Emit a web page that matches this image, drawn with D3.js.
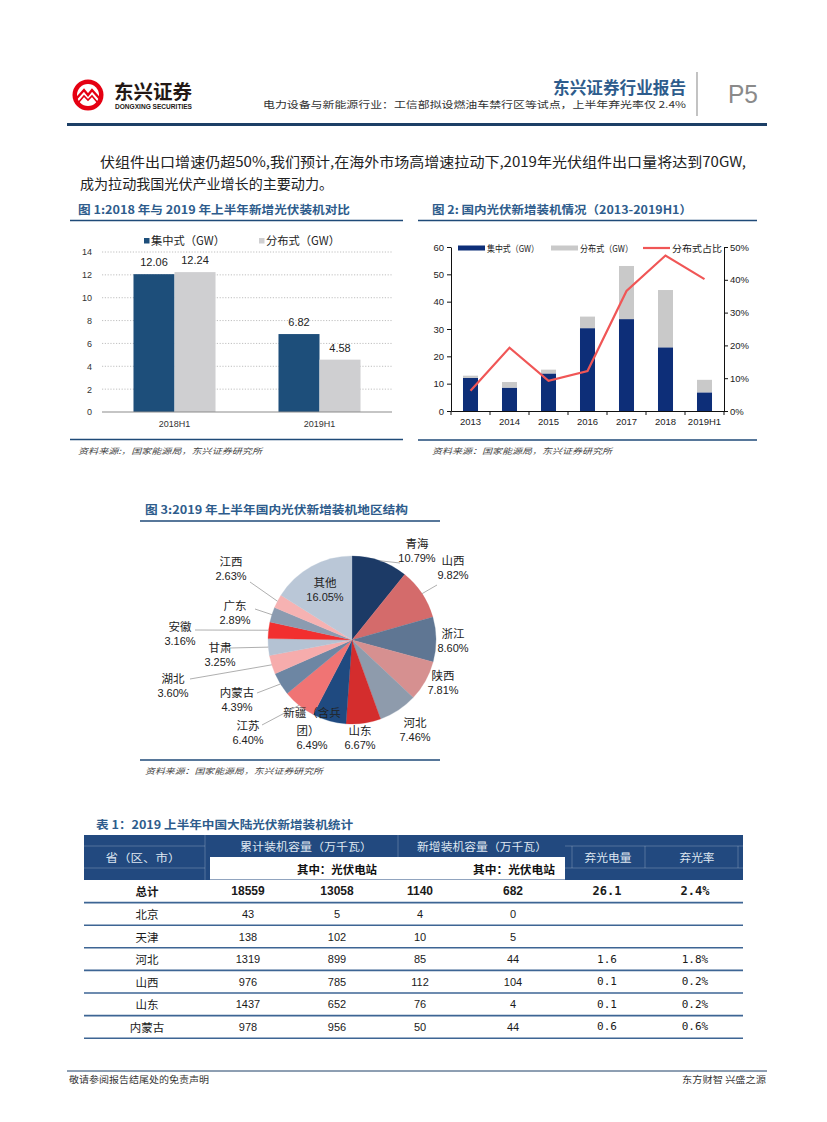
<!DOCTYPE html>
<html><head><meta charset="utf-8">
<script src="https://cdn.jsdelivr.net/npm/d3@7"></script>
<style>body{margin:0;background:#fff}svg{display:block}</style>
</head><body>
<svg id="page" width="827" height="1122"></svg>
<script>
// ---------------- DATA ----------------
const fig1Categories = ["2018H1", "2019H1"];
const fig1Series = ["集中式（GW）", "分布式（GW）"];
const fig1Central = [12.06, 6.82];
const fig1Distributed = [12.24, 4.58];
const fig1Ticks = [0, 2, 4, 6, 8, 10, 12, 14];

const fig2Years = ["2013", "2014", "2015", "2016", "2017", "2018", "2019H1"];
const fig2Series = ["集中式（GW）", "分布式（GW）", "分布式占比"];
const fig2Central = [12.12, 8.55, 13.74, 30.31, 33.62, 23.30, 6.82];
const fig2Distributed = [0.80, 2.05, 1.39, 4.23, 19.44, 20.96, 4.58];
const fig2Share = [0.062, 0.193, 0.092, 0.122, 0.366, 0.474, 0.402];
const fig2LeftTicks = [0, 10, 20, 30, 40, 50, 60];
const fig2RightTicks = [0, 0.1, 0.2, 0.3, 0.4, 0.5];

const fig3Regions = ["青海", "山西", "浙江", "陕西", "河北", "山东", "新疆（含兵团）", "江苏", "内蒙古", "湖北", "甘肃", "安徽", "广东", "江西", "其他"];
const fig3Shares = [10.79, 9.82, 8.60, 7.81, 7.46, 6.67, 6.49, 6.40, 4.39, 3.60, 3.25, 3.16, 2.89, 2.63, 16.05];
const fig3Colors = ["#1c3a66", "#d46b6b", "#5f7693", "#d69090", "#8e9bac", "#d42d2d", "#1f4a80", "#f07474", "#6d86a3", "#f6acac", "#b4c2d3", "#f22f2f", "#8b9bb0", "#f6b2b2", "#bac7d7"];

const tableProvinces = ["总计", "北京", "天津", "河北", "山西", "山东", "内蒙古"];
const tableCumTotal = [18559, 43, 138, 1319, 976, 1437, 978];
const tableCumStation = [13058, 5, 102, 899, 785, 652, 956];
const tableNewTotal = [1140, 4, 10, 85, 112, 76, 50];
const tableNewStation = [682, 0, 5, 44, 104, 4, 44];
const tableCurtailed = ["26.1", "", "", "1.6", "0.1", "0.1", "0.6"];
const tableCurtailRate = ["2.4%", "", "", "1.8%", "0.2%", "0.2%", "0.6%"];

// ---------------- DRAWING ----------------
const svg = d3.select("#page");
const CJK = "'Noto Sans CJK SC','Noto Sans',sans-serif";
const LAT = "'Liberation Sans',Arial,sans-serif";
const TITLE_BLUE = "#2e5c8c";
const LINE_BLUE = "#1f4a78";

function txt(g, x, y, s, o = {}) {
  const t = g.append("text").attr("x", x).attr("y", y).text(s)
    .attr("font-family", o.ff || CJK).attr("font-size", o.fs || 12)
    .attr("fill", o.fill || "#222").attr("text-anchor", o.anchor || "start")
    .attr("dominant-baseline", o.baseline || "alphabetic");
  if (o.fw) t.attr("font-weight", o.fw);
  if (o.italic) t.attr("font-style", "italic");
  if (o.len) t.attr("textLength", o.len).attr("lengthAdjust", "spacingAndGlyphs");
  return t;
}
function hline(g, x1, x2, y, c, w) {
  g.append("line").attr("x1", x1).attr("x2", x2).attr("y1", y).attr("y2", y).attr("stroke", c).attr("stroke-width", w);
}

// ----- Header -----
const hdr = svg.append("g");
hdr.append("circle").attr("cx", 88).attr("cy", 95).attr("r", 15.5).attr("fill", "#e50012");
hdr.append("circle").attr("cx", 88).attr("cy", 95).attr("r", 11).attr("fill", "#fff");
hdr.append("path").attr("d", "M76,99 L84,90 L88,95 L92,90 L100,99").attr("fill", "none").attr("stroke", "#e50012").attr("stroke-width", 2.4);
hdr.append("path").attr("d", "M78,103 L84,96 L88,100 L92,96 L98,103").attr("fill", "none").attr("stroke", "#e50012").attr("stroke-width", 1.6);
txt(hdr, 114, 99, "东兴证券", { fs: 19, fw: 700, fill: "#231815", len: 78 });
txt(hdr, 115, 109, "DONGXING SECURITIES", { ff: LAT, fs: 6.5, fw: 700, fill: "#231815", len: 77 });
txt(hdr, 686, 94, "东兴证券行业报告", { fs: 16.5, fw: 700, fill: TITLE_BLUE, anchor: "end", len: 133 });
txt(hdr, 686, 108, "电力设备与新能源行业：工信部拟设燃油车禁行区等试点，上半年弃光率仅 2.4%", { fs: 9.5, fill: "#333", anchor: "end", len: 423 });
hdr.append("line").attr("x1", 697).attr("x2", 697).attr("y1", 72).attr("y2", 116).attr("stroke", "#9a9a9a").attr("stroke-width", 1.2);
txt(hdr, 728, 103, "P5", { ff: LAT, fs: 25, fill: "#8a8a8a", len: 30 });
hline(hdr, 67, 767, 124.5, "#1c3f66", 3);

// ----- Body text -----
txt(svg, 100, 167, "伏组件出口增速仍超50%,我们预计,在海外市场高增速拉动下,2019年光伏组件出口量将达到70GW,", { fs: 14, fill: "#222", len: 646 });
txt(svg, 80, 189, "成为拉动我国光伏产业增长的主要动力。", { fs: 14, fill: "#222", len: 253 });

// ----- Figure 1 -----
(function () {
  const g = svg.append("g");
  txt(g, 78, 214, "图 1:2018 年与 2019 年上半年新增光伏装机对比", { fs: 11.5, fw: 700, fill: TITLE_BLUE, len: 272 });
  hline(g, 70, 403, 220.5, LINE_BLUE, 1.5);
  hline(g, 70, 403, 439.5, LINE_BLUE, 1.5);
  txt(g, 78, 454, "资料来源:，国家能源局，东兴证券研究所", { fs: 8, fill: "#444", italic: true, len: 184 });

  const x0 = 102, x1 = 392, yB = 412, yT = 252;
  const y = d3.scaleLinear().domain([0, 14]).range([yB, yT]);
  const xb = d3.scaleBand().domain(fig1Categories).range([x0, x1]);
  const xs = d3.scaleBand().domain([0, 1]).range([0, xb.bandwidth()]).paddingOuter(0.768);
  const cols = ["#1d4e7a", "#cfcfd1"];

  g.selectAll(".grid").data(fig1Ticks.filter(d => d > 0)).join("line")
    .attr("x1", x0).attr("x2", x1).attr("y1", d => y(d)).attr("y2", d => y(d))
    .attr("stroke", "#b0b0b0").attr("stroke-width", 0.8).attr("stroke-dasharray", "1.2,1.6");

  const yAx = g.append("g").attr("transform", `translate(${x0 - 6},0)`)
    .call(d3.axisLeft(y).tickValues(fig1Ticks).tickSize(0).tickPadding(4));
  yAx.select(".domain").remove();
  yAx.selectAll("text").attr("font-family", LAT).attr("font-size", 9).attr("fill", "#333");

  const series = [fig1Central, fig1Distributed];
  series.forEach((vals, si) => {
    g.selectAll(".b" + si).data(vals).join("rect")
      .attr("x", (d, i) => xb(fig1Categories[i]) + xs(si)).attr("width", xs.bandwidth())
      .attr("y", d => y(d)).attr("height", d => yB - y(d)).attr("fill", cols[si]);
    g.selectAll(".l" + si).data(vals).join("text")
      .attr("x", (d, i) => xb(fig1Categories[i]) + xs(si) + xs.bandwidth() / 2)
      .attr("y", d => y(d) - 8).attr("text-anchor", "middle")
      .attr("font-family", LAT).attr("font-size", 11).attr("fill", "#222")
      .text(d => d.toFixed(2));
  });
  hline(g, x0, x1, yB, "#8c8c8c", 1.2);
  const xAx = g.append("g").attr("transform", `translate(0,${yB})`)
    .call(d3.axisBottom(xb).tickSize(0).tickPadding(9));
  xAx.select(".domain").remove();
  xAx.selectAll("text").attr("font-family", LAT).attr("font-size", 9).attr("fill", "#333");

  // legend
  const lx = [144, 259];
  fig1Series.forEach((s, i) => {
    g.append("rect").attr("x", lx[i]).attr("y", 238).attr("width", 5.5).attr("height", 5.5).attr("fill", cols[i]);
    txt(g, lx[i] + 7, 245, s, { fs: 11.5, fill: "#222", len: 74 });
  });
})();

// ----- Figure 2 -----
(function () {
  const g = svg.append("g");
  txt(g, 432, 214, "图 2: 国内光伏新增装机情况（2013-2019H1）", { fs: 11.5, fw: 700, fill: TITLE_BLUE, len: 260 });
  hline(g, 418, 757, 220.5, LINE_BLUE, 1.5);
  hline(g, 418, 757, 440, LINE_BLUE, 1.5);
  txt(g, 432, 454, "资料来源：国家能源局，东兴证券研究所", { fs: 8, fill: "#444", italic: true, len: 180 });

  const x0 = 451, x1 = 724, yB = 411, yT = 247;
  const y = d3.scaleLinear().domain([0, 60]).range([yB, yT]);
  const y2 = d3.scaleLinear().domain([0, 0.5]).range([yB, yT]);
  const xb = d3.scaleBand().domain(fig2Years).range([x0, x1]).paddingInner(0.615).paddingOuter(0.3075);
  const cols = ["#0d2e78", "#c9c9c9", "#f05656"];

  g.selectAll(".c").data(fig2Central).join("rect")
    .attr("x", (d, i) => xb(fig2Years[i])).attr("width", xb.bandwidth())
    .attr("y", d => y(d)).attr("height", d => yB - y(d)).attr("fill", cols[0]);
  g.selectAll(".d").data(fig2Distributed).join("rect")
    .attr("x", (d, i) => xb(fig2Years[i])).attr("width", xb.bandwidth())
    .attr("y", (d, i) => y(d + fig2Central[i])).attr("height", d => yB - y(d)).attr("fill", cols[1]);

  const line = d3.line().x((d, i) => xb(fig2Years[i]) + xb.bandwidth() / 2).y(d => y2(d));
  g.append("path").datum(fig2Share).attr("d", line).attr("fill", "none")
    .attr("stroke", cols[2]).attr("stroke-width", 2.2).attr("stroke-linejoin", "miter");

  const styleAx = ax => {
    ax.select(".domain").attr("stroke", "#111").attr("stroke-width", 1);
    ax.selectAll(".tick line").attr("stroke", "#111");
    ax.selectAll("text").attr("font-family", LAT).attr("font-size", 9.5).attr("fill", "#222");
  };
  styleAx(g.append("g").attr("transform", `translate(${x0},0)`)
    .call(d3.axisLeft(y).tickValues(fig2LeftTicks).tickSize(4).tickSizeOuter(0).tickPadding(3)));
  styleAx(g.append("g").attr("transform", `translate(${x1},0)`)
    .call(d3.axisRight(y2).tickValues(fig2RightTicks).tickFormat(d3.format(".0%")).tickSize(4).tickSizeOuter(0).tickPadding(2)));
  const bx = g.append("g").attr("transform", `translate(0,${yB})`)
    .call(d3.axisBottom(xb).tickSize(0).tickPadding(7));
  styleAx(bx);
  const step = xb.step();
  g.selectAll(".bt").data(d3.range(fig2Years.length + 1)).join("line")
    .attr("x1", i => x0 + i * step).attr("x2", i => x0 + i * step)
    .attr("y1", yB).attr("y2", yB + 4).attr("stroke", "#111");

  // legend
  const ly = 248;
  g.append("rect").attr("x", 458).attr("y", ly - 2.5).attr("width", 27).attr("height", 5).attr("fill", cols[0]);
  txt(g, 487, ly + 3.5, fig2Series[0], { fs: 9, fill: "#222", len: 52 });
  g.append("rect").attr("x", 551).attr("y", ly - 2.5).attr("width", 27).attr("height", 5).attr("fill", cols[1]);
  txt(g, 580, ly + 3.5, fig2Series[1], { fs: 9, fill: "#222", len: 53 });
  hline(g, 643, 670, ly, cols[2], 2.2);
  txt(g, 672, ly + 3.5, fig2Series[2], { fs: 9, fill: "#222", len: 50 });
})();

// ----- Figure 3 (pie) -----
(function () {
  const g = svg.append("g");
  txt(g, 145, 514, "图 3:2019 年上半年国内光伏新增装机地区结构", { fs: 11.5, fw: 700, fill: TITLE_BLUE, len: 263 });
  hline(g, 140, 440, 521, LINE_BLUE, 1.5);
  hline(g, 140, 440, 760, LINE_BLUE, 1.5);
  txt(g, 145, 774, "资料来源：国家能源局，东兴证券研究所", { fs: 8, fill: "#444", italic: true, len: 178 });

  const cx = 352, cy = 640, R = 84;
  const pie = d3.pie().sort(null).value(d => d)(fig3Shares);
  const arc = d3.arc().innerRadius(0).outerRadius(R);
  const pg = g.append("g").attr("transform", `translate(${cx},${cy})`);
  pg.selectAll("path").data(pie).join("path").attr("d", arc)
    .attr("fill", (d, i) => fig3Colors[i]).attr("stroke", (d, i) => fig3Colors[i]).attr("stroke-width", 0.3);

  // label layout (offsets from pie centre): name-line centre, optional wrap, leader start
  const layout = [
    { p: [65, -97], lead: [48, -77] },
    { p: [101, -80], lead: [85, -55] },
    { p: [101, -7] },
    { p: [91, 35] },
    { p: [63, 82] },
    { p: [8, 90] },
    { p: [-40, 72], wrap: ["新疆（含兵", "团）"] },
    { p: [-104, 85], lead: [-90, 85] },
    { p: [-115, 52], lead: [-95, 53] },
    { p: [-179, 38], lead: [-162, 39] },
    { p: [-132, 7], lead: [-122, 8] },
    { p: [-172, -14], lead: [-157, -10] },
    { p: [-117, -35], lead: [-97, -31] },
    { p: [-121, -79], lead: [-102, -58] },
    { p: [-27, -58] }
  ];
  pie.forEach((s, i) => {
    const L = layout[i];
    if (L.lead) {
      const a = (s.startAngle + s.endAngle) / 2;
      pg.append("line").attr("x1", L.lead[0]).attr("y1", L.lead[1])
        .attr("x2", Math.sin(a) * R).attr("y2", -Math.cos(a) * R)
        .attr("stroke", "#a6a6a6").attr("stroke-width", 0.9);
    }
    const lines = L.wrap || [fig3Regions[i]];
    let yy = L.p[1];
    lines.forEach((ln, k) => {
      txt(pg, L.p[0] + (k > 0 ? -4 : 0), yy, ln, { fs: 11.5, fill: "#222", anchor: "middle", baseline: "central" });
      yy += k === 0 && lines.length > 1 ? 18 : 15;
    });
    txt(pg, L.p[0], yy, s.data.toFixed(2) + "%", { ff: LAT, fs: 11, fill: "#222", anchor: "middle", baseline: "central" });
  });
})();

// ----- Table -----
(function () {
  const g = svg.append("g");
  txt(g, 96, 829, "表 1：2019 上半年中国大陆光伏新增装机统计", { fs: 11.5, fw: 700, fill: TITLE_BLUE, len: 257 });
  const L = 84, Rr = 743, hT = 835, hB = 880;
  const headBlue = "#22497f";
  g.append("rect").attr("x", L).attr("y", hT).attr("width", Rr - L).attr("height", hB - hT).attr("fill", headBlue);
  g.append("rect").attr("x", 210).attr("y", 857).attr("width", 355).attr("height", 22.5).attr("fill", "#fff");
  // faint header cell borders
  const faint = "rgba(255,255,255,0.22)";
  [[205, 835, 205, 880], [398, 835, 398, 857], [84, 846, 205, 846], [84, 868, 205, 868], [565, 846, 743, 846], [565, 868, 743, 868], [572, 846, 572, 868], [645, 846, 645, 868], [738, 846, 738, 868]]
    .forEach(c => g.append("line").attr("x1", c[0]).attr("y1", c[1]).attr("x2", c[2]).attr("y2", c[3]).attr("stroke", faint).attr("stroke-width", 1));
  const hc = "#dfe7f1";
  txt(g, 143, 857, "省（区、市）", { fs: 11, fill: hc, anchor: "middle", baseline: "central", len: 75 });
  txt(g, 306, 846, "累计装机容量（万千瓦）", { fs: 11, fill: hc, anchor: "middle", baseline: "central", len: 132 });
  txt(g, 482, 846, "新增装机容量（万千瓦）", { fs: 11, fill: hc, anchor: "middle", baseline: "central", len: 130 });
  txt(g, 337, 868.5, "其中：光伏电站", { fs: 11, fw: 700, fill: "#111", anchor: "middle", baseline: "central", len: 80 });
  txt(g, 514, 868.5, "其中：光伏电站", { fs: 11, fw: 700, fill: "#111", anchor: "middle", baseline: "central", len: 82 });
  txt(g, 608, 857, "弃光电量", { fs: 11, fill: hc, anchor: "middle", baseline: "central", len: 47 });
  txt(g, 697, 857, "弃光率", { fs: 11, fill: hc, anchor: "middle", baseline: "central", len: 35 });

  const rowH = 22.6;
  const ry = d3.scaleBand().domain(d3.range(tableProvinces.length)).range([hB, hB + rowH * tableProvinces.length]);
  const colX = [147, 248, 337, 420, 513, 607, 695];
  const cols = [tableProvinces, tableCumTotal, tableCumStation, tableNewTotal, tableNewStation, tableCurtailed, tableCurtailRate];
  tableProvinces.forEach((p, r) => {
    const yc = ry(r) + ry.bandwidth() / 2;
    const bold = r === 0;
    cols.forEach((col, c) => {
      const v = col[r];
      if (v === "") return;
      const isCJK = c === 0;
      const mono = c >= 5;
      txt(g, colX[c], yc, String(v), {
        ff: isCJK ? CJK : (mono ? "'DejaVu Sans Mono',monospace" : LAT),
        fs: isCJK ? 11.5 : (bold ? 12 : 11), fw: bold ? 700 : null,
        fill: "#1a1a1a", anchor: "middle", baseline: "central"
      });
    });
    hline(g, L, Rr, ry(r) + ry.bandwidth(), "#3d6594", 1.6);
  });
})();

// ----- Footer -----
hline(svg, 67, 767, 1071, "#1c3f66", 1);
txt(svg, 69, 1083, "敬请参阅报告结尾处的免责声明", { fs: 9, fill: "#333", len: 140 });
txt(svg, 766, 1083, "东方财智 兴盛之源", { fs: 9, fill: "#333", anchor: "end", len: 84 });
</script>
</body></html>
